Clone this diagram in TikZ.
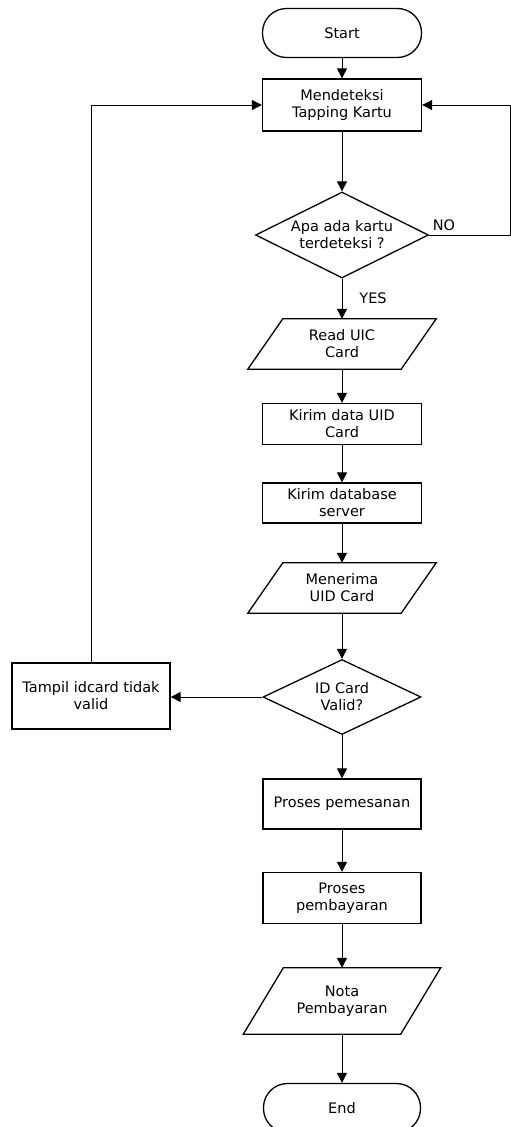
\documentclass[tikz,border=0pt]{standalone}
\usepackage{fontspec}
\setmainfont{DejaVu Sans}
\usetikzlibrary{shapes.geometric,arrows.meta}
\tikzset{
  base/.style={draw, line width=1.3pt, align=center, inner sep=2pt, font=\fontsize{14.5}{17}\selectfont},
  term/.style={base, rectangle, rounded corners=24pt, minimum width=159pt, minimum height=49pt},
  proc/.style={base, rectangle, minimum width=159pt},
  dec/.style={base, diamond, inner sep=0pt, aspect=2},
  io/.style={align=center, inner sep=0pt, font=\fontsize{14.5}{17}\selectfont, minimum height=50pt, minimum width=188pt},
  iobox/.style={line width=1.3pt},
  conn/.style={line width=1pt, -{Triangle[width=10pt,length=10pt]}},
  lbl/.style={font=\fontsize{14.5}{17}\selectfont, inner sep=0pt}
}
\begin{document}
\begin{tikzpicture}[x=1pt,y=-1pt]
\useasboundingbox (0,0) rectangle (511,1127);
\clip (0,0) rectangle (511,1127);
\node[term] (start) at (342,33) {Start};
\node[proc, minimum height=52pt] (detect) at (342,105) {Mendeteksi\\Tapping Kartu};
\node[dec, minimum width=173pt, minimum height=86pt] (dec1) at (342,235) {Apa ada kartu\\terdeteksi ?};
\node[io] (read) at (342,344) {Read UIC\\Card};
\draw[iobox] ([xshift=35pt]read.north west) -- (read.north east) -- ([xshift=-35pt]read.south east) -- (read.south west) -- cycle;
\node[proc, minimum height=41pt] (kirim1) at (342,424) {Kirim data UID\\Card};
\node[proc, minimum height=40pt] (kirim2) at (342,503) {Kirim database\\server};
\node[io] (terima) at (342,588) {Menerima\\UID Card};
\draw[iobox] ([xshift=35pt]terima.north west) -- (terima.north east) -- ([xshift=-35pt]terima.south east) -- (terima.south west) -- cycle;
\node[dec, minimum width=158pt, minimum height=75pt] (dec2) at (342,697) {ID Card\\Valid?};
\node[proc, minimum width=158pt, minimum height=66pt] (tampil) at (91,696) {Tampil idcard tidak\\valid};
\node[proc, minimum width=158pt, minimum height=50pt] (pesan) at (342,804) {Proses pemesanan};
\node[proc, minimum width=158pt, minimum height=51pt] (bayar) at (342,898) {Proses\\pembayaran};
\node[io, minimum width=197pt, minimum height=66pt] (nota) at (342,1001) {Nota\\Pembayaran};
\draw[iobox] ([xshift=40pt]nota.north west) -- (nota.north east) -- ([xshift=-40pt]nota.south east) -- (nota.south west) -- cycle;
\node[term, minimum width=157pt] (end) at (342,1108) {End};

\draw[conn] (start) -- (detect);
\draw[conn] (detect) -- (dec1);
\draw[conn] (dec1) -- (read.north);
\node[lbl] (yes) at (373,298) {YES};
\draw[conn] (read.south) -- (kirim1);
\draw[conn] (kirim1) -- (kirim2);
\draw[conn] (kirim2) -- (terima.north);
\draw[conn] (terima.south) -- (dec2);
\draw[conn] (dec2) -- (pesan);
\draw[conn] (pesan) -- (bayar);
\draw[conn] (bayar) -- (nota.north);
\draw[conn] (nota.south) -- (end);
\draw[conn] (dec2.west) -- (dec2.west -| tampil.east);
\draw[conn] (tampil.north) |- (detect.west);
\coordinate (noR) at (510.5,235);
\draw[conn] (dec1.east) -- (noR) |- (detect.east);
\node[lbl] (no) at (444,225) {NO};
\end{tikzpicture}
\end{document}
